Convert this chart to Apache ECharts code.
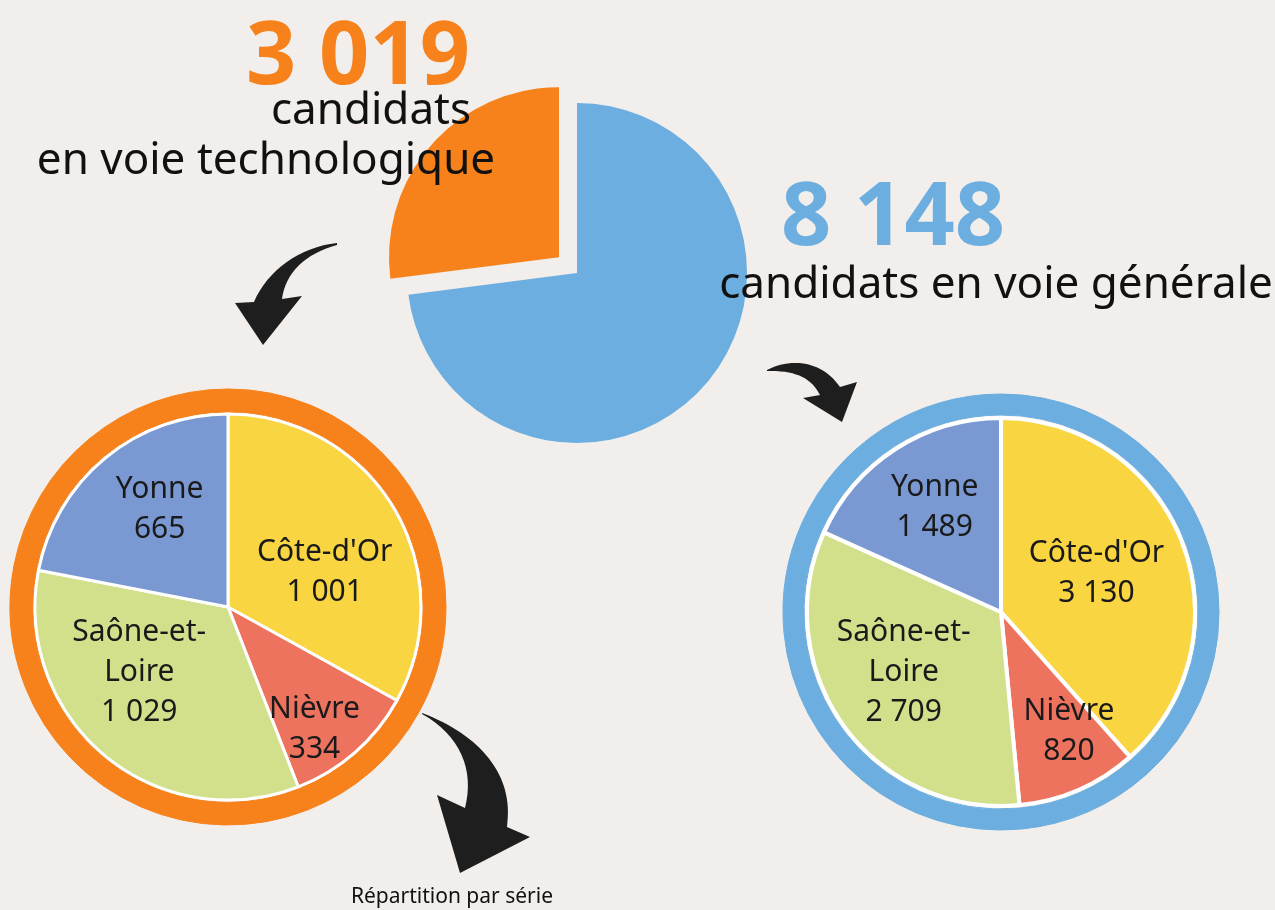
<!DOCTYPE html>
<html>
<head>
<meta charset="utf-8">
<script src="https://cdn.jsdelivr.net/npm/echarts@6/dist/echarts.min.js"></script>
<style>
  html, body { margin: 0; padding: 0; background: #f1eeeb; }
  #bacCharts { width: 1275px; height: 910px; }
</style>
</head>
<body>
<div id="bacCharts"></div>
<script>
// données : candidats par voie et par département
var voies = ['voie générale', 'voie technologique'];
var voieValues = [8148, 3019];
var departements = ['Côte-d\'Or', 'Nièvre', 'Saône-et-Loire', 'Yonne'];
var techValues = [1001, 334, 1029, 665];
var generaleValues = [3130, 820, 2709, 1489];

// couleurs
var voieColors = ['#6caee0', '#f7821b'];
var deptColors = ['#f9d542', '#ee735f', '#d3e08b', '#7a99d3'];
var font = '"Noto Sans", sans-serif';

// décalage des étiquettes par rapport à la position "inside"
var techOffsets = [[11, 16], [21, 48], [-25, -11], [-5, -21]];
var generaleOffsets = [[2, -3], [28, 28], [-16, 2], [-12, -21]];

function fmt(n) {
    return String(n).replace(/\B(?=(\d{3})+(?!\d))/g, ' ');
}

function deptData(values) {
    return departements.map(function (d, i) {
        return {name: d, value: values[i], itemStyle: {color: deptColors[i]}};
    });
}

function ringData(values, color) {
    return departements.map(function (d, i) {
        return {name: d, value: values[i], itemStyle: {color: color, borderColor: color, borderWidth: 1}};
    });
}

var deptLabel = {
    show: true,
    position: 'inside',
    color: '#1a1a1a',
    fontFamily: font,
    fontSize: 30,
    lineHeight: 40,
    align: 'center',
    formatter: function (p) {
        return p.name.replace('-et-', '-et-\n') + '\n' + fmt(p.value);
    }
};

// flèches (décor)
var arrowsSvg = '<svg xmlns="http://www.w3.org/2000/svg" width="1275" height="910">' +
    '<g fill="#1e1e1e">' +
    '<path d="M337,243 C300,247 268,270 254,302 L235,303 L263,345 L302,296 L282,299 C286,272 305,254 337,245 Z"/>' +
    '<path d="M767,370 C790,358 822,360 840,387 L857,382 L842,422 L803,398 L820,395 C812,378 795,370 767,371 Z"/>' +
    '<path d="M422,713 C480,735 515,775 507,827 L530,837 L460,873 L437,795 L465,808 C475,770 460,735 422,714 Z"/>' +
    '</g></svg>';

function text(x, y, str, color, size, weight) {
    return {
        type: 'text', z: 100, x: x, y: y, silent: true,
        style: {
            text: str, fill: color, font: (weight || 'normal') + ' ' + size + 'px ' + font,
            align: 'center', verticalAlign: 'middle', textAlign: 'center', textVerticalAlign: 'middle'
        }
    };
}

var myChart = echarts.init(document.getElementById('bacCharts'));

var option = {
    backgroundColor: '#f1eeeb',
    animation: false,
    graphic: {
        elements: [
            {
                type: 'image', z: 50, silent: true,
                style: {image: 'data:image/svg+xml;charset=utf-8,' + encodeURIComponent(arrowsSvg), x: 0, y: 0, width: 1275, height: 910}
            },
            text(358, 59, fmt(voieValues[1]), voieColors[1], 88, 'bold'),
            text(371, 111, 'candidats', '#111', 44),
            text(266, 161, 'en voie technologique', '#111', 44),
            text(893, 220, fmt(voieValues[0]), voieColors[0], 88, 'bold'),
            text(996, 285, 'candidats en voie générale', '#111', 44),
            text(452, 897, 'Répartition par série', '#111', 21)
        ]
    },
    series: [
        {
            name: 'voies',
            type: 'pie',
            center: [577, 273],
            radius: 170,
            startAngle: 90,
            clockwise: true,
            selectedMode: 'single',
            selectedOffset: 24,
            silent: true,
            label: {show: false},
            labelLine: {show: false},
            data: voies.map(function (v, i) {
                return {name: v, value: voieValues[i], selected: i === 1, itemStyle: {color: voieColors[i]}};
            })
        },
        {
            name: 'anneau techno',
            type: 'pie',
            center: [228, 607],
            radius: [195, 218],
            startAngle: 90,
            silent: true,
            label: {show: false},
            labelLine: {show: false},
            data: ringData(techValues, voieColors[1])
        },
        {
            name: 'voie technologique',
            type: 'pie',
            center: [228, 607],
            radius: 193,
            startAngle: 90,
            silent: true,
            itemStyle: {borderColor: '#fff', borderWidth: 3},
            label: deptLabel,
            labelLine: {show: false},
            labelLayout: function (p) {
                var o = techOffsets[p.dataIndex];
                return {dx: o[0], dy: o[1]};
            },
            data: deptData(techValues)
        },
        {
            name: 'anneau générale',
            type: 'pie',
            center: [1001, 612],
            radius: [197, 218],
            startAngle: 90,
            silent: true,
            label: {show: false},
            labelLine: {show: false},
            data: ringData(generaleValues, voieColors[0])
        },
        {
            name: 'voie générale',
            type: 'pie',
            center: [1001, 612],
            radius: 194,
            startAngle: 90,
            silent: true,
            itemStyle: {borderColor: '#fff', borderWidth: 4},
            label: deptLabel,
            labelLine: {show: false},
            labelLayout: function (p) {
                var o = generaleOffsets[p.dataIndex];
                return {dx: o[0], dy: o[1]};
            },
            data: deptData(generaleValues)
        }
    ]
};

myChart.setOption(option);
</script>
</body>
</html>
